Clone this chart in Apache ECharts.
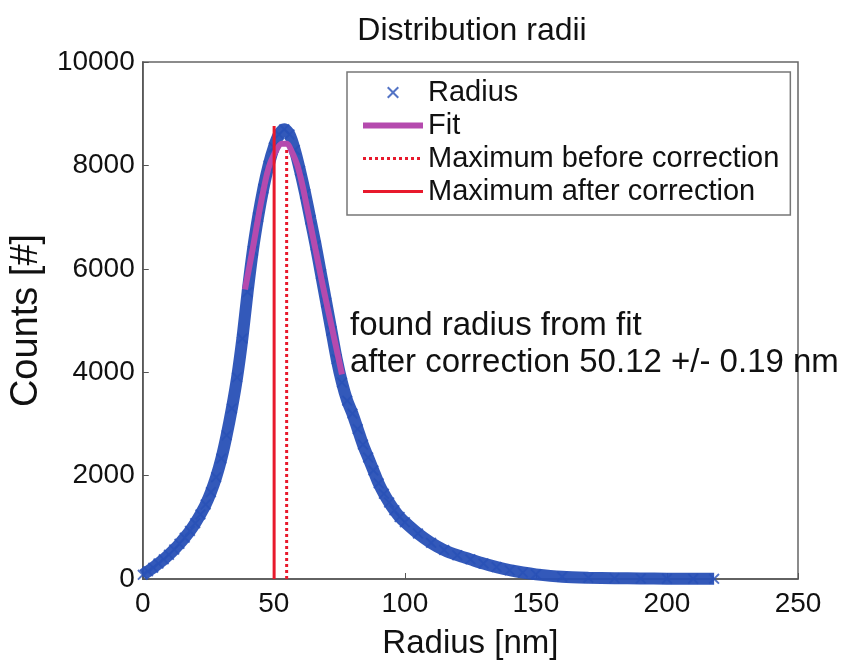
<!DOCTYPE html>
<html>
<head>
<meta charset="utf-8">
<title>Distribution radii</title>
<script src="https://cdn.jsdelivr.net/npm/echarts@6/dist/echarts.min.js"></script>
<style>
	html, body { margin: 0; padding: 0; background: #ffffff; }
	#chart { width: 849px; height: 665px; }
</style>
</head>
<body>
<div id="chart"></div>
<script>
// 测量数据 (radius nm -> counts)
var radiusNm = [0, 2, 4, 6, 8, 10, 12, 14, 16, 18, 20, 22, 24, 26, 28, 30, 32, 34, 36, 38,
	40, 42, 44, 46, 48, 50, 52, 54, 56, 58, 60, 62, 64, 66, 68, 70, 72, 74, 76, 78,
	80, 82, 84, 86, 88, 90, 92, 94, 96, 98, 100, 105, 110, 115, 120, 125, 130, 135, 140, 145,
	150, 160, 170, 180, 190, 200, 210, 218];
var radiusCounts = [80, 150, 220, 300, 380, 470, 570, 680, 800, 930, 1080, 1250, 1440, 1680, 1970, 2330, 2780, 3300, 3900, 4650,
	5550, 6350, 7000, 7550, 8000, 8350, 8600, 8700, 8600, 8300, 7900, 7450, 6950, 6450, 5900, 5350, 4800, 4250, 3800, 3450,
	3200, 2900, 2600, 2350, 2100, 1850, 1650, 1480, 1330, 1200, 1100, 880, 700, 560, 460, 380, 300, 230, 170, 125,
	90, 45, 25, 15, 10, 6, 4, 3];

// 拟合曲线
var fitNm = [39, 42, 45, 48, 51, 53, 55, 57, 59, 61, 63, 66, 69, 72, 76];
var fitCounts = [5600, 6400, 7250, 7950, 8300, 8420, 8420, 8250, 8000, 7600, 7100, 6350, 5600, 4900, 3960];

// 最大值位置
var maxBefore = [54.9, 8350];
var maxAfter = [50.12, 8760];

var xTicks = [0, 50, 100, 150, 200, 250];
var yTicks = [0, 2000, 4000, 6000, 8000, 10000];

var FONT = '"Liberation Sans", Arial, sans-serif';
var BLUE = '#2850b6';
var RED = '#e8192c';
var MAGENTA = '#b54aae';
var CROSS = 'path://M0,1.2L1.2,0L5,3.8L8.8,0L10,1.2L6.2,5L10,8.8L8.8,10L5,6.2L1.2,10L0,8.8L3.8,5Z';

function pairs(xs, ys) {
	var out = [];
	for (var i = 0; i < xs.length; i++) {
		out.push([xs[i], ys[i]]);
	}
	return out;
}

var chart = echarts.init(document.getElementById('chart'), null, { renderer: 'canvas' });

var option = {
	backgroundColor: '#ffffff',
	animation: false,
	textStyle: { fontFamily: FONT, color: '#111' },
	title: {
		text: 'Distribution radii',
		left: 467,
		top: 10,
		textAlign: 'center',
		textStyle: { fontFamily: FONT, fontSize: 32, fontWeight: 'normal', color: '#111' }
	},
	grid: {
		left: 140,
		right: 51,
		top: 62,
		bottom: 76,
		show: true,
		borderColor: '#666',
		borderWidth: 1.5
	},
	legend: {
		orient: 'vertical',
		left: 347,
		top: 72,
		itemWidth: 60,
		itemHeight: 12,
		itemGap: 2,
		padding: [5, 11, 8, 13],
		borderColor: '#777',
		borderWidth: 1.5,
		backgroundColor: '#fff',
		data: [
			{ name: 'Radius' },
			{ name: 'Fit', lineStyle: { width: 6 }, itemStyle: { opacity: 0 } },
			{ name: 'Maximum before correction', lineStyle: { width: 3 }, itemStyle: { opacity: 0 } },
			{ name: 'Maximum after correction', lineStyle: { width: 3 }, itemStyle: { opacity: 0 } }
		],
		textStyle: { fontFamily: FONT, fontSize: 29, color: '#111', lineHeight: 31, padding: [0, 0, 0, 0] }
	},
	xAxis: {
		type: 'value',
		min: 0,
		max: 250,
		interval: 50,
		name: 'Radius [nm]',
		nameLocation: 'middle',
		nameGap: 48,
		nameTextStyle: { fontFamily: FONT, fontSize: 33, color: '#111' },
		axisLine: { lineStyle: { color: '#555', width: 1.5 } },
		axisTick: { inside: true, length: 6, lineStyle: { color: '#555' } },
		axisLabel: { fontFamily: FONT, fontSize: 28, color: '#111', margin: 11 },
		splitLine: { show: false }
	},
	yAxis: {
		type: 'value',
		min: 0,
		max: 10000,
		interval: 2000,
		name: 'Counts [#]',
		nameLocation: 'middle',
		nameGap: 94,
		nameTextStyle: { fontFamily: FONT, fontSize: 38, color: '#111' },
		axisLine: { lineStyle: { color: '#555', width: 1.5 } },
		axisTick: { inside: true, length: 6, lineStyle: { color: '#555' } },
		axisLabel: {
			fontFamily: FONT, fontSize: 28, color: '#111', margin: 8,
			formatter: function(v) { return String(v); }
		},
		splitLine: { show: false }
	},
	graphic: [
		{
			type: 'text',
			left: 350,
			top: 307,
			style: {
				text: 'found radius from fit\nafter correction 50.12 +/- 0.19 nm',
				font: '33px ' + FONT,
				fill: '#111',
				lineHeight: 37
			},
			z: 10
		}
	],
	series: [
		{
			// 数据带底层
			name: 'band',
			type: 'line',
			data: pairs(radiusNm, radiusCounts),
			smooth: 0.3,
			symbol: 'none',
			silent: true,
			lineStyle: { color: BLUE, width: 12, opacity: 0.95 },
			z: 1
		},
		{
			name: 'Radius',
			type: 'scatter',
			data: pairs(radiusNm, radiusCounts),
			symbol: CROSS,
			symbolSize: 11,
			itemStyle: { color: BLUE },
			z: 2
		},
		{
			name: 'Fit',
			type: 'line',
			data: pairs(fitNm, fitCounts),
			smooth: 0.3,
			symbol: 'none',
			itemStyle: { color: MAGENTA },
			lineStyle: { color: MAGENTA, width: 6 },
			z: 3
		},
		{
			name: 'Maximum before correction',
			type: 'line',
			data: [[maxBefore[0], 0], maxBefore],
			symbol: 'none',
			itemStyle: { color: RED },
			lineStyle: { color: RED, width: 3, type: 'dotted' },
			z: 4
		},
		{
			name: 'Maximum after correction',
			type: 'line',
			data: [[maxAfter[0], 0], maxAfter],
			symbol: 'none',
			itemStyle: { color: RED },
			lineStyle: { color: RED, width: 3 },
			z: 5
		}
	]
};

chart.setOption(option);
</script>
</body>
</html>
